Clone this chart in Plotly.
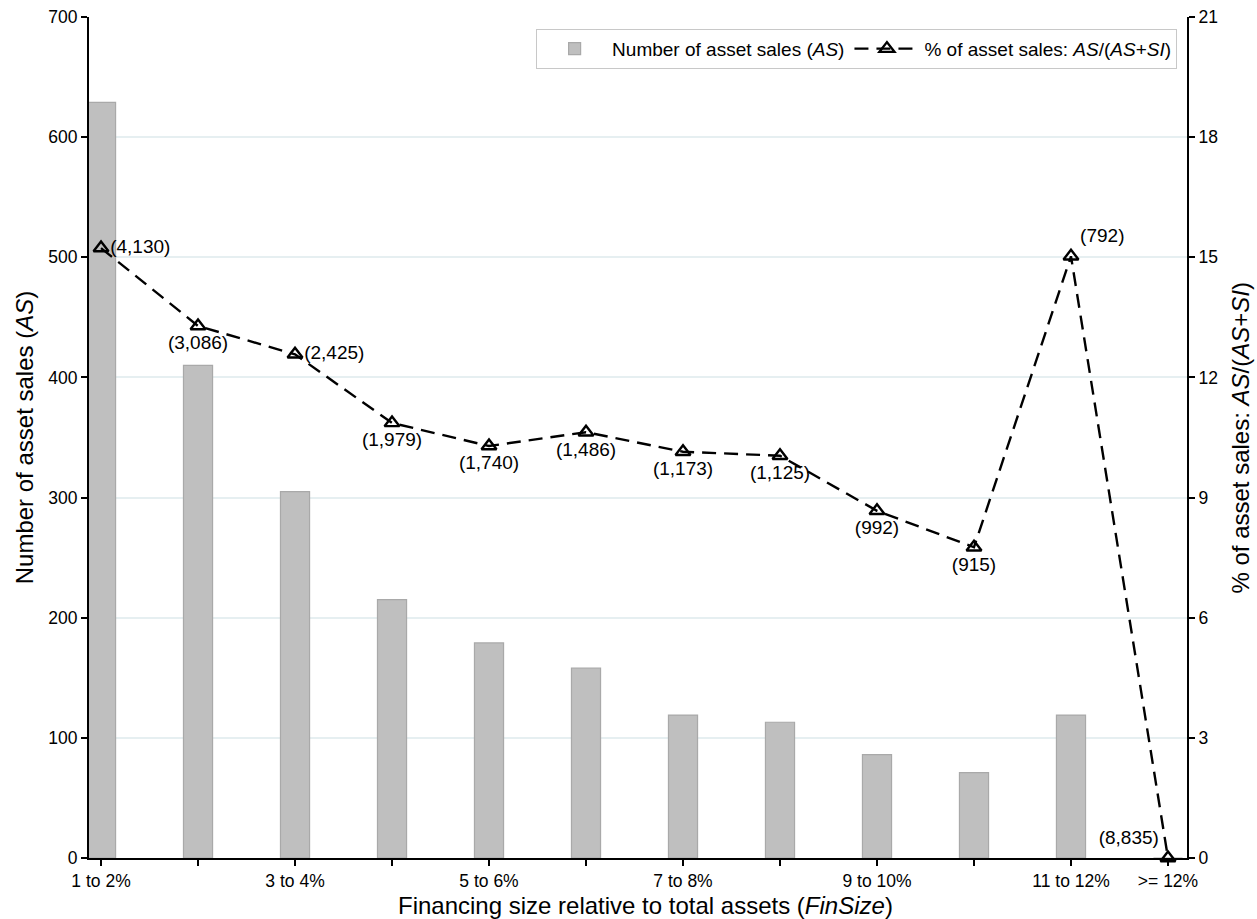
import plotly.graph_objects as go

# Financing-size buckets (FinSize) and counts per bucket
categories = ["1 to 2%", "2 to 3%", "3 to 4%", "4 to 5%", "5 to 6%", "6 to 7%",
              "7 to 8%", "8 to 9%", "9 to 10%", "10 to 11%", "11 to 12%", ">= 12%"]
tick_labels = ["1 to 2%", "", "3 to 4%", "", "5 to 6%", "", "7 to 8%", "",
               "9 to 10%", "", "11 to 12%", ">= 12%"]
asset_sales = [629, 410, 305, 215, 179, 158, 119, 113, 86, 71, 119, 0]
total_events = [4130, 3086, 2425, 1979, 1740, 1486, 1173, 1125, 992, 915, 792, 8835]
label_positions = ["middle right", "bottom center", "middle right", "bottom center",
                   "bottom center", "bottom center", "bottom center", "bottom center",
                   "bottom center", "bottom center", "top right", "top left"]

pct_asset_sales = [a / n * 100 for a, n in zip(asset_sales, total_events)]
point_labels = [f"({n:,})" for n in total_events]
x = list(range(len(categories)))

FONT = "Liberation Sans, Arial, sans-serif"
GRID = "#E6EFF1"
AXIS = dict(showline=True, linecolor="black", linewidth=2, zeroline=False,
            ticks="outside", ticklen=6, tickwidth=1.5, tickcolor="black",
            tickfont=dict(family=FONT, size=17.5), automargin=False)

fig = go.Figure()
fig.add_trace(go.Bar(
    x=x, y=asset_sales, width=0.3,
    marker=dict(color="#BFBFBF", line=dict(color="#A9A9A9", width=1.2)),
    name="Number of asset sales (<i>AS</i>)",
    yaxis="y", hoverinfo="skip",
))
fig.add_trace(go.Scatter(
    x=x, y=pct_asset_sales, mode="lines+markers+text",
    line=dict(color="black", width=2.4, dash="14px,8px"),
    marker=dict(symbol="triangle-up-open", size=13, color="black",
                line=dict(color="black", width=2.4)),
    text=point_labels, textposition=label_positions,
    textfont=dict(family=FONT, size=19, color="black"),
    name="% of asset sales: <i>AS</i>/(<i>AS</i>+<i>SI</i>)",
    yaxis="y2", hoverinfo="skip", cliponaxis=False,
))

fig.update_layout(
    width=1257, height=919,
    margin=dict(l=89, r=70, t=17, b=61),
    paper_bgcolor="white", plot_bgcolor="white",
    font=dict(family=FONT, size=18, color="black"),
    showlegend=True,
    legend=dict(
        orientation="h", x=0.991, xanchor="right", y=0.986, yanchor="top",
        bordercolor="#C8C8C8", borderwidth=1, bgcolor="white",
        font=dict(family=FONT, size=19, color="black"),
        itemwidth=65, tracegroupgap=0,
    ),
    xaxis=dict(
        range=[-0.124, 11.196], tickmode="array", tickvals=x, ticktext=tick_labels,
        showgrid=False, **AXIS,
    ),
    yaxis=dict(
        range=[0, 700], tickvals=[0, 100, 200, 300, 400, 500, 600, 700],
        showgrid=True, gridcolor=GRID, gridwidth=2, **AXIS,
    ),
    yaxis2=dict(
        range=[0, 21], tickvals=[0, 3, 6, 9, 12, 15, 18, 21],
        overlaying="y", side="right", showgrid=False, **AXIS,
    ),
)

# Axis titles
TITLE_FONT = dict(family=FONT, size=24, color="black")
fig.add_annotation(text="Financing size relative to total assets (<i>FinSize</i>)",
                   xref="paper", yref="paper", x=0.507, y=-0.057,
                   xanchor="center", yanchor="middle", showarrow=False, font=TITLE_FONT)
fig.add_annotation(text="Number of asset sales (<i>AS</i>)",
                   xref="paper", yref="paper", x=-0.0585, y=0.5, textangle=-90,
                   xanchor="center", yanchor="middle", showarrow=False, font=TITLE_FONT)
fig.add_annotation(text="% of asset sales: <i>AS</i>/(<i>AS</i>+<i>SI</i>)",
                   xref="paper", yref="paper", x=1.0483, y=0.5, textangle=-90,
                   xanchor="center", yanchor="middle", showarrow=False, font=TITLE_FONT)

fig.write_html("out.html")
